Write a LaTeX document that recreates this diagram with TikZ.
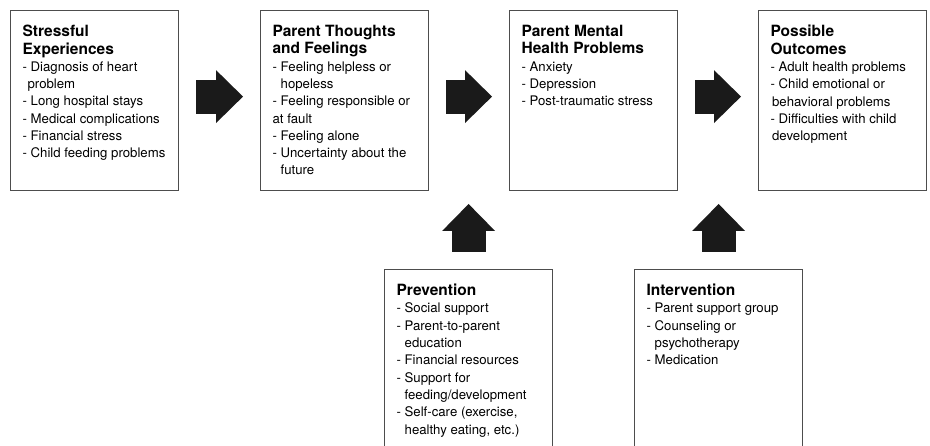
\documentclass[tikz,border=0pt]{standalone}
\usepackage{fontspec}
\setmainfont{TeX Gyre Heros}
\usetikzlibrary{arrows.meta}

\definecolor{boxline}{HTML}{4D4D4D}
\definecolor{arrowfill}{HTML}{1A1A1A}

% list item, continuation line, and box heading
\newlength{\dashwd}
\newcommand{\itm}{\par\noindent- }
\newcommand{\nl}[1][\dashwd]{\par\noindent\hspace*{#1}\ignorespaces}
\newcommand{\head}[1]{{\fontsize{15.5}{17.5}\selectfont\bfseries #1\par}}

\tikzset{
  box/.style={draw=boxline, line width=1.2pt, anchor=north west, inner xsep=12pt, inner ysep=14.5pt,
    execute at begin node={\begin{minipage}[t][#1][t]{160pt}\raggedright\fontsize{13.2}{17.3}\selectfont\settowidth{\dashwd}{- }},
    execute at end node={\end{minipage}\hspace*{-16pt}}},
  box/.default=151pt,
  bigarrow/.style={draw=arrowfill, line width=34pt,
    -{Triangle[length=27pt, width=53pt, line width=0pt]}}
}

\begin{document}
\begin{tikzpicture}[x=1pt, y=1pt]
  \useasboundingbox (0,0) rectangle (930,-446);
  \clip (0,0) rectangle (930,-446);

  % Top row
  \node[box] (stress) at (10,-10) {\head{Stressful\\Experiences}
    \itm Diagnosis of heart\nl[5pt]problem
    \itm Long hospital stays
    \itm Medical complications
    \itm Financial stress
    \itm Child feeding problems};
  \node[box] (thoughts) at (260,-10) {\head{Parent Thoughts\\and Feelings}
    \itm Feeling helpless or\nl hopeless
    \itm Feeling responsible or\nl[0pt]at fault
    \itm Feeling alone
    \itm Uncertainty about the\nl future};
  \node[box] (mental) at (509,-10) {\head{Parent Mental\\Health Problems}
    \itm Anxiety
    \itm Depression
    \itm Post-traumatic stress};
  \node[box] (outcome) at (758,-10) {\head{Possible\\Outcomes}
    \itm Adult health problems
    \itm Child emotional or\nl[1.5pt]behavioral problems
    \itm Difficulties with child\nl[1.5pt]development};

  % Bottom row
  \node[box=220pt] (prevent) at (384,-269) {\head{Prevention}
    \itm Social support
    \itm Parent-to-parent\nl education
    \itm Financial resources
    \itm Support for\nl feeding/development
    \itm Self-care (exercise,\nl healthy eating, etc.)};
  \node[box=220pt] (interv) at (634,-269) {\head{Intervention}
    \itm Parent support group
    \itm Counseling or\nl psychotherapy
    \itm Medication};

  % Arrows between the top boxes
  \draw[bigarrow, shorten <=17pt, shorten >=17pt] ([yshift=4pt]stress.east) -- ([yshift=4pt]thoughts.west);
  \draw[bigarrow, shorten <=17pt, shorten >=17pt] ([yshift=4pt]thoughts.east) -- ([yshift=4pt]mental.west);
  \draw[bigarrow, shorten <=17pt, shorten >=17pt] ([yshift=4pt]mental.east) -- ([yshift=4pt]outcome.west);

  % Arrows up from the bottom boxes
  \coordinate (preventtip) at ([yshift=65pt]prevent.north);
  \coordinate (intervtip) at ([yshift=65pt]interv.north);
  \draw[bigarrow, shorten <=17pt] (prevent.north) -- (preventtip);
  \draw[bigarrow, shorten <=17pt] (interv.north) -- (intervtip);
\end{tikzpicture}
\end{document}
